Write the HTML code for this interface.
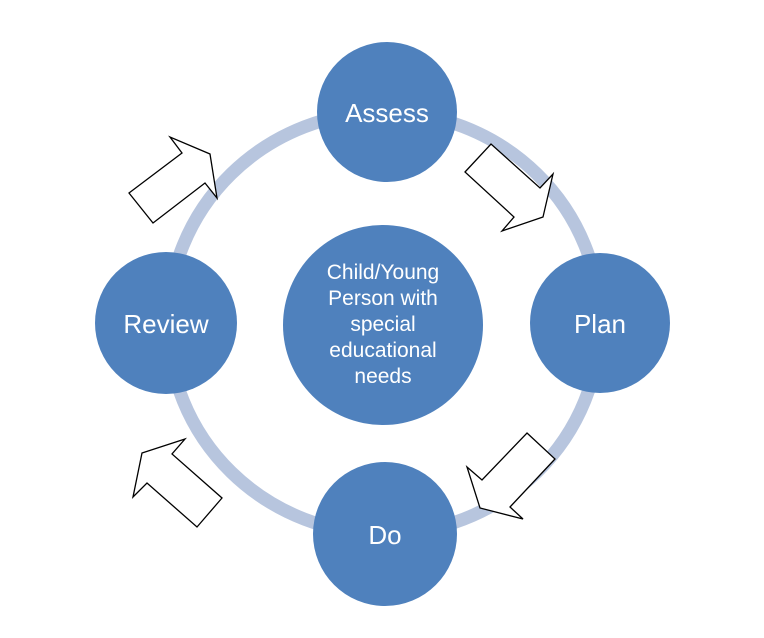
<!DOCTYPE html>
<html><head><style>body{margin:0;background:#fff}svg{display:block}</style></head>
<body>
<svg width="764" height="638" viewBox="0 0 764 638" xmlns="http://www.w3.org/2000/svg" font-family="Liberation Sans, sans-serif">
<ellipse cx="384" cy="323" rx="216" ry="211" fill="none" stroke="#b7c5de" stroke-width="13"/>
<g fill="#4f81bd">
<circle cx="387" cy="112" r="70"/>
<circle cx="600" cy="323" r="70"/>
<circle cx="385" cy="534" r="72"/>
<circle cx="166" cy="323" r="71"/>
<circle cx="383" cy="325" r="100"/>
</g>
<g fill="#fff" stroke="#000" stroke-width="1.3" stroke-linejoin="miter">
<polygon points="129,193 182,153 170,137 210,154 217,198 205,183 153,223"/>
<polygon points="465,172 491,144 540,188 553,174 543,217 502,231 514,217"/>
<polygon points="527,433 555,459 510,507 523,519 480,508 467,467 482,480"/>
<polygon points="185,439 142,453 133,497 147,483 197,527 222,498 172,454"/>
</g>
<g fill="#fff" text-anchor="middle" font-size="26">
<text x="387" y="122">Assess</text>
<text x="600" y="333">Plan</text>
<text x="385" y="544">Do</text>
<text x="166" y="333">Review</text>
</g>
<g fill="#fff" text-anchor="middle" font-size="21">
<text x="383" y="279">Child/Young</text>
<text x="383" y="305">Person with</text>
<text x="383" y="331">special</text>
<text x="383" y="357">educational</text>
<text x="383" y="383">needs</text>
</g>
</svg>
</body></html>
